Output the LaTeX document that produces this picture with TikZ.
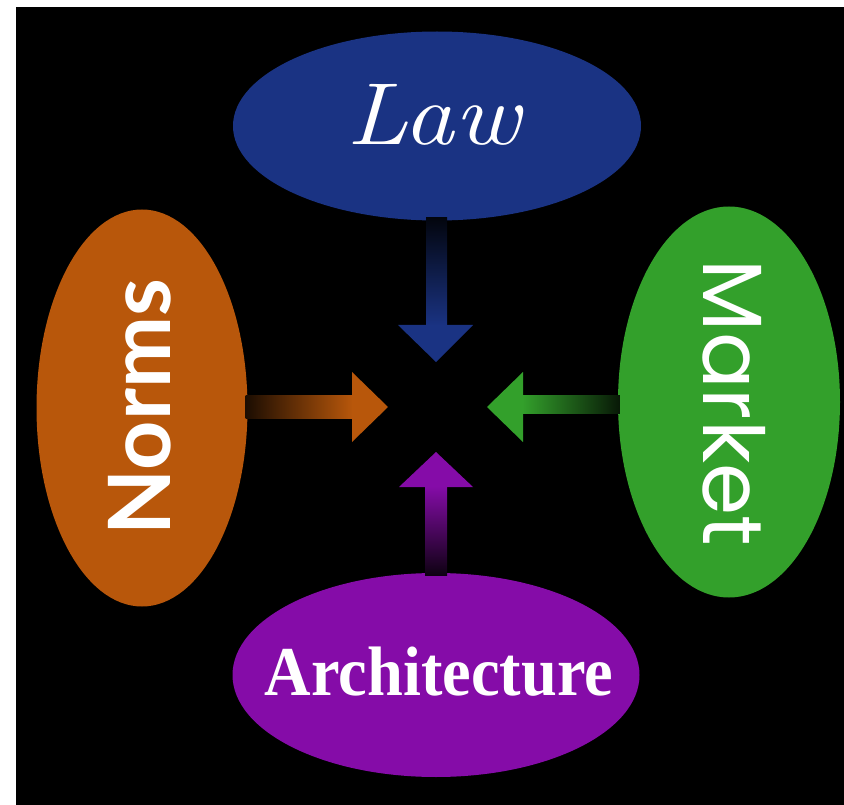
\documentclass[tikz,border=0pt]{standalone}
\usepackage{fontspec}
\usepackage{graphicx}
\usetikzlibrary{shapes.geometric,calc}
\newfontfamily\normsfont{Lato}
\newfontfamily\marketfont{Poppins}
\newfontfamily\archfont{Liberation Serif}
\definecolor{lawblue}{HTML}{1A3383}
\definecolor{normorange}{HTML}{B8570B}
\definecolor{marketgreen}{HTML}{33A02B}
\definecolor{archpurple}{HTML}{850CA8}
\tikzset{
  ell/.style={ellipse, draw=none, inner sep=0pt},
  lbl/.style={text=white, inner sep=0pt, anchor=base},
}
\begin{document}
\begin{tikzpicture}[x=1pt,y=-1pt]
\useasboundingbox (0,0) rectangle (844,805);
\fill[white] (0,0) rectangle (844,805);
\fill[black] (16,7) rectangle (844,805);
% ellipses
\node[ell, fill=lawblue, minimum width=408pt, minimum height=189pt] (law) at (437,126) {};
\node[ell, fill=normorange, minimum width=211pt, minimum height=397pt] (norms) at (142,408) {};
\node[ell, fill=marketgreen, minimum width=222pt, minimum height=391pt] (market) at (729,402) {};
\node[ell, fill=archpurple, minimum width=407pt, minimum height=204pt] (arch) at (436,675) {};
\coordinate (c) at (436,407);
% labels
\node[lbl] (lawtext) at (433,145) {\scalebox{1.15}[1]{\fontsize{88}{88}\selectfont\itshape Law}};
\node[lbl, rotate=90] (normstext) at (170,407) {\fontsize{86}{86}\selectfont\normsfont\bfseries Norms};
\node[lbl, rotate=-90] (markettext) at (703,403) {\fontsize{84}{84}\selectfont\marketfont Market};
\node[lbl] (archtext) at (439,695) {\scalebox{0.92}[1]{\fontsize{70}{70}\selectfont\archfont\bfseries Architecture}};
% law arrow (down)
\shade[top color=lawblue!10!black, bottom color=lawblue] ($(law.south)+(-11,-3)$) rectangle ($(c)+(11,-81)$);
\fill[lawblue] ($(c)+(-38,-82)$) -- ($(c)+(37,-82)$) -- ($(c)+(0,-45)$) -- cycle;
% norms arrow (right)
\shade[left color=normorange!15!black, right color=normorange] ($(norms.east)+(-2,-13)$) rectangle ($(c)+(-83,11)$);
\fill[normorange] ($(c)+(-84,-35)$) -- ($(c)+(-84,35)$) -- ($(c)+(-48,0)$) -- cycle;
% market arrow (left)
\shade[left color=marketgreen, right color=marketgreen!15!black] ($(c)+(86,-12)$) rectangle ($(market.west)+(2,11)$);
\fill[marketgreen] ($(c)+(87,-35)$) -- ($(c)+(87,35)$) -- ($(c)+(51,0)$) -- cycle;
% architecture arrow (up)
\shade[top color=archpurple, bottom color=archpurple!10!black] ($(c)+(-11,79)$) rectangle ($(arch.north)+(11,3)$);
\fill[archpurple] ($(c)+(-37,80)$) -- ($(c)+(37,80)$) -- ($(c)+(0,45)$) -- cycle;
\end{tikzpicture}
\end{document}
